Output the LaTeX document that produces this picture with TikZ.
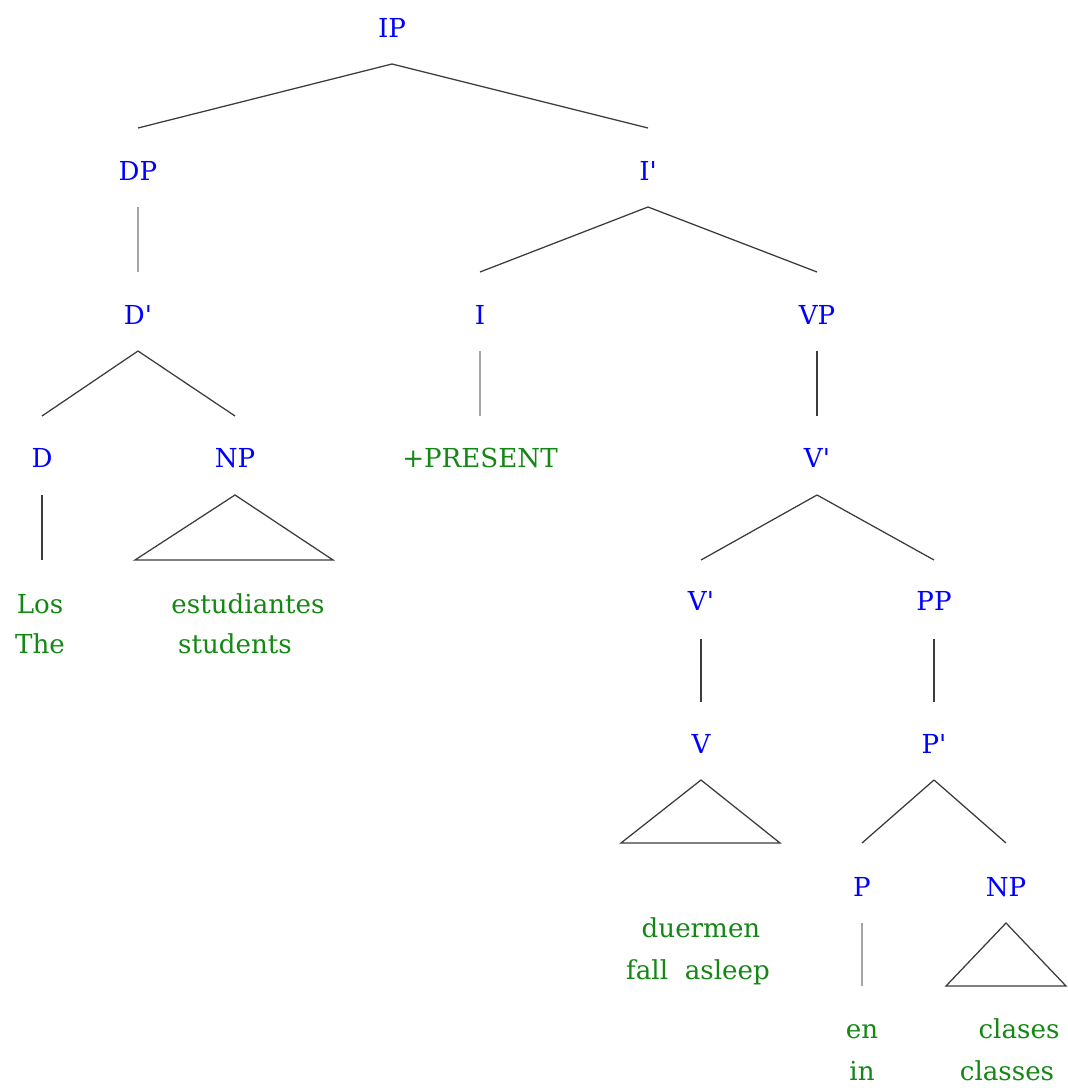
\documentclass[tikz,border=0pt]{standalone}
\usepackage{fontspec}
\setmainfont{DejaVu Serif}
\usetikzlibrary{calc}
\definecolor{catblue}{RGB}{0,0,255}
\definecolor{wordgreen}{RGB}{20,135,20}
\definecolor{branchdark}{RGB}{60,60,60}
\definecolor{branchlight}{RGB}{165,165,165}
\tikzset{
  cat/.style={anchor=base, inner sep=0pt, text=catblue, font=\fontsize{19.6pt}{23pt}\selectfont},
  word/.style={anchor=base, inner sep=0pt, text=wordgreen, font=\fontsize{19.6pt}{23pt}\selectfont},
  branch/.style={draw=branchdark, line width=0.95pt},
  lbranch/.style={draw=branchlight, line width=0.95pt},
}
\begin{document}
\begin{tikzpicture}[x=0.75pt,y=-0.75pt]
\useasboundingbox (0,0) rectangle (1067,1091);
% categories
\node[cat] (IP) at (392,38) {IP};
\node[cat] (DP) at (138,181) {DP};
\node[cat] (Ib) at (648,181) {I\textquotesingle};
\node[cat] (Db) at (138,324) {D\textquotesingle};
\node[cat] (I) at (480,324) {I};
\node[cat] (VP) at (817,324) {VP};
\node[cat] (D) at (42,467) {D};
\node[cat] (NPa) at (235,467) {NP};
\node[word] (pres) at (480,467) {+PRESENT};
\node[cat] (Vba) at (817,467) {V\textquotesingle};
\node[cat] (Vbb) at (701,610) {V\textquotesingle};
\node[cat] (PP) at (934,610) {PP};
\node[cat] (V) at (701,753) {V};
\node[cat] (Pb) at (934,753) {P\textquotesingle};
\node[cat] (P) at (862,896) {P};
\node[cat] (NPb) at (1006,896) {NP};
% words
\node[word] (los) at (40,613) {Los};
\node[word] (the) at (40,653) {The};
\node[word] (estu) at (248,613) {estudiantes};
\node[word] (stud) at (235,653) {students};
\node[word] (duer) at (701,937) {duermen};
\node[word] (fall) at (698,979) {fall\ \ asleep};
\node[word] (en) at (862,1038) {en};
\node[word] (in) at (862,1080) {in};
\node[word] (clas) at (1019,1038) {clases};
\node[word] (class) at (1007,1080) {classes};
% branches
\draw[branch] ($(IP.base)+(0,26)$) -- ($(DP.base)+(0,-53)$);
\draw[branch] ($(IP.base)+(0,26)$) -- ($(Ib.base)+(0,-53)$);
\draw[lbranch] ($(DP.base)+(0,26)$) -- ($(Db.base)+(0,-52)$);
\draw[branch] ($(Ib.base)+(0,26)$) -- ($(I.base)+(0,-52)$);
\draw[branch] ($(Ib.base)+(0,26)$) -- ($(VP.base)+(0,-52)$);
\draw[branch] ($(Db.base)+(0,27)$) -- ($(D.base)+(0,-51)$);
\draw[branch] ($(Db.base)+(0,27)$) -- ($(NPa.base)+(0,-51)$);
\draw[lbranch] ($(I.base)+(0,27)$) -- ($(pres.base)+(0,-51)$);
\draw[branch] ($(VP.base)+(0,27)$) -- ($(Vba.base)+(0,-51)$);
\draw[branch] ($(D.base)+(0,28)$) -- ($(D.base)+(0,93)$);
\draw[branch] ($(NPa.base)+(0,28)$) -- ($(NPa.base)+(-100,93)$) -- ($(NPa.base)+(98,93)$) -- cycle;
\draw[branch] ($(Vba.base)+(0,28)$) -- ($(Vbb.base)+(0,-50)$);
\draw[branch] ($(Vba.base)+(0,28)$) -- ($(PP.base)+(0,-50)$);
\draw[branch] ($(Vbb.base)+(0,29)$) -- ($(V.base)+(0,-51)$);
\draw[branch] ($(PP.base)+(0,29)$) -- ($(Pb.base)+(0,-51)$);
\draw[branch] ($(V.base)+(0,27)$) -- ($(V.base)+(-80,90)$) -- ($(V.base)+(79,90)$) -- cycle;
\draw[branch] ($(Pb.base)+(0,27)$) -- ($(P.base)+(0,-53)$);
\draw[branch] ($(Pb.base)+(0,27)$) -- ($(NPb.base)+(0,-53)$);
\draw[lbranch] ($(P.base)+(0,27)$) -- ($(P.base)+(0,90)$);
\draw[branch] ($(NPb.base)+(0,27)$) -- ($(NPb.base)+(-60,90)$) -- ($(NPb.base)+(60,90)$) -- cycle;
\end{tikzpicture}
\end{document}
